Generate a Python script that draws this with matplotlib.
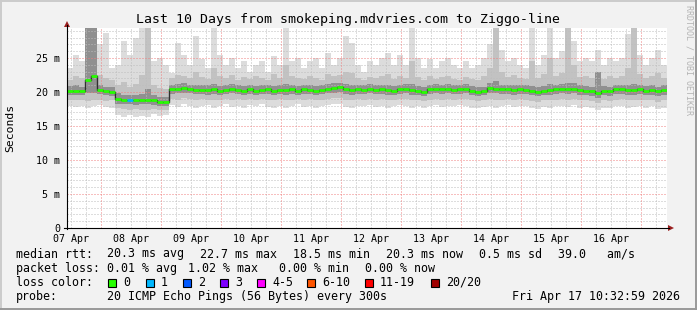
import datetime as dt

import matplotlib

matplotlib.use("Agg")
import matplotlib.dates as mdates
import matplotlib.pyplot as plt
import numpy as np
from matplotlib.lines import Line2D
from matplotlib.patches import Polygon, Rectangle
from matplotlib.ticker import FuncFormatter, MultipleLocator

# ---- data (ms), one value per 2.4 h column ----
median = [20.2, 20.2, 20.1, 21.8, 22.4, 20.3, 20.1, 20.0, 19.0, 18.9,
          18.9, 18.8, 18.9, 18.9, 18.8, 18.6, 18.6, 20.4, 20.5, 20.6,
          20.4, 20.3, 20.3, 20.3, 20.4, 20.2, 20.3, 20.5, 20.3, 20.2,
          20.4, 20.2, 20.3, 20.4, 20.2, 20.3, 20.3, 20.4, 20.2, 20.4,
          20.3, 20.2, 20.3, 20.5, 20.6, 20.7, 20.4, 20.3, 20.4, 20.3,
          20.5, 20.3, 20.4, 20.3, 20.2, 20.4, 20.5, 20.3, 20.2, 20.0,
          20.4, 20.5, 20.4, 20.5, 20.3, 20.4, 20.5, 20.2, 20.0, 20.1,
          20.6, 20.5, 20.4, 20.4, 20.3, 20.4, 20.3, 20.1, 20.0, 20.2,
          20.3, 20.4, 20.5, 20.4, 20.5, 20.3, 20.2, 20.1, 19.8, 20.2,
          20.1, 20.4, 20.4, 20.3, 20.3, 20.4, 20.2, 20.3, 20.1, 20.3]
ping_max = [23.5, 25.5, 24.5, 29.5, 29.5, 27.0, 28.7, 23.5, 24.0, 27.5,
            25.5, 27.9, 29.5, 29.5, 24.5, 25.0, 24.0, 22.8, 27.2, 25.5,
            24.0, 28.2, 24.8, 23.5, 29.5, 25.5, 24.0, 25.0, 23.5, 24.5,
            23.0, 24.0, 24.5, 23.0, 25.3, 24.0, 29.5, 24.5, 25.0, 23.5,
            24.5, 25.0, 23.5, 25.7, 24.0, 25.0, 28.2, 27.2, 24.0, 23.0,
            24.5, 24.0, 25.0, 25.7, 24.0, 25.5, 24.0, 29.5, 25.0, 23.5,
            24.8, 23.5, 24.5, 25.0, 24.0, 23.5, 24.5, 23.5, 24.0, 25.0,
            27.0, 29.5, 26.2, 24.5, 25.0, 24.0, 23.5, 29.5, 24.0, 25.5,
            29.5, 25.0, 26.0, 29.5, 27.5, 24.5, 25.0, 24.5, 26.2, 24.0,
            25.0, 24.5, 25.0, 28.5, 29.5, 25.5, 24.0, 25.0, 26.2, 24.0]
ping_p90 = [21.8, 22.3, 22.0, 29.5, 29.5, 22.5, 22.0, 21.8, 21.0, 21.5,
            20.8, 21.2, 22.5, 29.5, 21.0, 20.6, 20.5, 22.0, 22.5, 22.3,
            22.0, 23.0, 22.2, 21.9, 23.5, 22.4, 22.0, 22.5, 21.8, 22.2,
            21.9, 22.3, 22.0, 21.8, 22.6, 22.0, 24.0, 22.3, 22.1, 21.9,
            22.4, 22.0, 21.8, 22.6, 22.3, 22.5, 23.0, 22.8, 22.0, 21.8,
            22.2, 22.0, 22.4, 22.6, 21.9, 22.3, 22.1, 24.5, 22.2, 21.8,
            22.3, 21.9, 22.2, 22.4, 21.9, 21.8, 22.2, 21.9, 21.8, 22.3,
            23.5, 29.5, 23.0, 22.2, 22.5, 22.0, 21.9, 24.5, 22.0, 22.6,
            25.0, 22.3, 22.8, 29.5, 24.0, 22.2, 22.4, 22.0, 23.0, 21.9,
            22.3, 22.1, 22.4, 23.5, 29.5, 22.6, 22.0, 22.3, 22.8, 22.0]
ping_p75 = [20.9, 21.0, 20.8, 29.5, 29.5, 21.0, 20.8, 20.7, 19.8, 19.6,
            19.6, 19.5, 19.7, 20.5, 19.5, 19.3, 19.3, 21.1, 21.2, 21.3,
            21.1, 21.0, 21.0, 21.0, 21.2, 20.9, 21.0, 21.2, 21.0, 20.9,
            21.1, 20.9, 21.0, 21.1, 20.9, 21.0, 21.2, 21.1, 20.9, 21.1,
            21.0, 20.9, 21.0, 21.2, 21.3, 21.4, 21.2, 21.0, 21.1, 21.0,
            21.2, 21.0, 21.1, 21.0, 20.9, 21.1, 21.2, 21.2, 20.9, 20.7,
            21.1, 21.2, 21.1, 21.2, 21.0, 21.1, 21.2, 20.9, 20.7, 20.8,
            21.4, 21.6, 21.1, 21.1, 21.0, 21.1, 21.0, 20.9, 20.7, 20.9,
            21.2, 21.1, 21.2, 21.4, 21.3, 21.0, 20.9, 20.8, 23.0, 20.9,
            20.8, 21.1, 21.1, 21.1, 21.2, 21.1, 20.9, 21.0, 20.8, 21.0]
ping_p25 = [19.6, 19.6, 19.5, 19.8, 19.9, 19.7, 19.5, 19.4, 18.3, 18.2,
            18.2, 18.1, 18.2, 18.2, 18.1, 17.9, 17.9, 19.7, 19.8, 19.9,
            19.8, 19.7, 19.7, 19.6, 19.7, 19.6, 19.7, 19.8, 19.7, 19.6,
            19.7, 19.6, 19.7, 19.7, 19.6, 19.7, 19.6, 19.7, 19.6, 19.7,
            19.7, 19.6, 19.7, 19.8, 19.9, 20.0, 19.7, 19.6, 19.7, 19.7,
            19.8, 19.7, 19.7, 19.6, 19.6, 19.7, 19.8, 19.6, 19.6, 19.4,
            19.7, 19.8, 19.7, 19.8, 19.7, 19.7, 19.8, 19.6, 19.4, 19.5,
            19.9, 19.8, 19.7, 19.7, 19.6, 19.7, 19.7, 19.5, 19.4, 19.5,
            19.6, 19.7, 19.8, 19.7, 19.8, 19.6, 19.5, 19.4, 19.1, 19.5,
            19.4, 19.7, 19.7, 19.6, 19.6, 19.7, 19.5, 19.6, 19.4, 19.6]
ping_p10 = [18.9, 18.8, 18.9, 18.7, 18.8, 18.9, 18.7, 18.8, 17.6, 17.5,
            17.4, 17.5, 17.3, 17.4, 17.5, 17.3, 17.4, 19.0, 18.9, 19.1,
            19.0, 18.9, 19.0, 18.9, 18.8, 18.9, 19.0, 18.9, 19.0, 18.8,
            19.0, 18.9, 19.0, 18.9, 18.8, 19.0, 18.8, 18.9, 19.0, 18.9,
            19.0, 18.8, 18.9, 19.0, 19.1, 19.2, 18.9, 18.8, 19.0, 18.9,
            19.0, 18.9, 19.0, 18.8, 18.9, 19.0, 19.0, 18.8, 18.9, 18.7,
            18.9, 19.0, 18.9, 19.0, 18.9, 19.0, 19.0, 18.8, 18.7, 18.8,
            19.0, 18.9, 18.9, 19.0, 18.9, 19.0, 18.9, 18.7, 18.6, 18.8,
            18.8, 18.9, 19.0, 18.9, 19.0, 18.8, 18.8, 18.7, 18.4, 18.8,
            18.7, 18.9, 19.0, 18.8, 18.8, 18.9, 18.8, 18.9, 18.6, 18.8]
ping_min = [18.0, 17.8, 17.9, 17.6, 17.9, 18.1, 17.8, 17.7, 16.6, 16.4,
            16.6, 16.3, 16.5, 16.4, 16.7, 16.5, 16.6, 18.1, 17.8, 18.2,
            17.9, 17.7, 18.0, 18.1, 17.6, 17.9, 18.2, 17.8, 18.0, 17.7,
            18.1, 17.9, 18.2, 17.8, 17.6, 18.0, 17.7, 17.9, 18.2, 17.8,
            18.0, 17.6, 17.9, 18.1, 18.2, 18.3, 17.8, 17.7, 18.0, 17.9,
            18.1, 17.8, 18.0, 17.7, 17.9, 18.1, 18.0, 17.6, 17.9, 17.7,
            18.0, 18.1, 17.8, 18.0, 17.9, 18.1, 18.0, 17.7, 17.6, 17.8,
            18.0, 17.7, 17.9, 18.1, 17.8, 18.0, 17.9, 17.6, 17.5, 17.8,
            17.7, 17.9, 18.0, 17.8, 18.1, 17.7, 17.8, 17.6, 17.3, 17.7,
            17.6, 17.9, 18.0, 17.7, 17.8, 17.9, 17.7, 17.9, 17.5, 17.7]
loss = [0] * 10 + [1] + [0] * 89

loss_labels = ["0", "1", "2", "3", "4-5", "6-10", "11-19", "20/20"]
loss_colors = ["#26ff00", "#00b8ff", "#0059ff", "#7e00ff",
               "#ff00ff", "#ff5500", "#ff0000", "#a10000"]

median_stats = ["20.3 ms avg", "22.7 ms max", "18.5 ms min",
                "20.3 ms now", "0.5 ms sd", "39.0   am/s"]
loss_stats = ["0.01 % avg", "1.02 % max", "0.00 % min", "0.00 % now"]

W, H = 697, 310
MONO = "DejaVu Sans Mono"


def fx(x):
    return x / W


def fy(y):
    return 1 - y / H


fig = plt.figure(figsize=(W / 100, H / 100), dpi=100, facecolor="#f2f2f2")
ax = fig.add_axes([fx(67), fy(228), 600 / W, 200.5 / H])
ax.set_facecolor("white")

t0 = dt.datetime(2026, 4, 7, 10, 32, 59)
col = dt.timedelta(hours=2.4)
x_left = mdates.date2num([t0 + i * col for i in range(len(median))])
edges = np.append(x_left, x_left[-1] + 0.1)


def ext(a):
    return np.append(a, a[-1])


# smoke: outer to inner
for lo, hi, c in [(ping_min, ping_max, "#dcdcdc"),
                  (ping_p10, ping_p90, "#c2c2c2"),
                  (ping_p25, ping_p75, "#909090")]:
    ax.fill_between(edges, ext(lo), ext(hi), step="post", color=c,
                    linewidth=0, zorder=1)

ax.step(edges, ext(median), where="post", color="#303030", lw=1.0, zorder=4)
ax.hlines(median, x_left, x_left + 0.1,
          colors=[loss_colors[l] for l in loss], lw=2.0, zorder=5)

ax.set_xlim(mdates.date2num(t0), mdates.date2num(t0 + dt.timedelta(days=10)))
ax.set_ylim(0, 29.5)

ax.yaxis.set_major_locator(MultipleLocator(5))
ax.yaxis.set_minor_locator(MultipleLocator(1))
ax.yaxis.set_major_formatter(FuncFormatter(lambda v, p: "0" if v == 0 else f"{v:g} m"))
ax.xaxis.set_major_locator(mdates.HourLocator(byhour=12))
ax.xaxis.set_major_formatter(mdates.DateFormatter("%d %b"))
ax.xaxis.set_minor_locator(mdates.HourLocator(byhour=[6, 12, 18]))
ax.xaxis.remove_overlapping_locs = False

dots = (0, (1, 2))
ax.set_axisbelow(False)
ax.grid(which="minor", color="#bdbdbd", ls=dots, lw=0.72, zorder=2.5)
ax.grid(which="major", axis="y", color="#f08080", ls=dots, lw=0.72, zorder=2.6)
ax.grid(which="major", axis="x", visible=False)
for d in range(8, 18):
    ax.axvline(mdates.date2num(dt.datetime(2026, 4, d)), color="#f08080",
               ls=dots, lw=0.72, zorder=2.6)

ax.tick_params(which="both", length=0, labelsize=7.2, colors="black")
ax.tick_params(axis="y", pad=5)
ax.tick_params(axis="x", pad=4)
for lab in ax.get_xticklabels() + ax.get_yticklabels():
    lab.set_family(MONO)
for s in ax.spines.values():
    s.set_visible(False)

# axes with arrows
fig.add_artist(Line2D([fx(67), fx(67)], [fy(228.5), fy(25)], color="black", lw=0.8))
fig.add_artist(Line2D([fx(64), fx(669)], [fy(228), fy(228)], color="black", lw=0.8))
fig.add_artist(Polygon([(fx(64), fy(27)), (fx(70), fy(27)), (fx(67), fy(21))],
                       closed=True, color="#9b2020", lw=0))
fig.add_artist(Polygon([(fx(668), fy(225)), (fx(668), fy(231)), (fx(674), fy(228))],
                       closed=True, color="#9b2020", lw=0))

# frame
fig.add_artist(Line2D([0, 1], [fy(0.5), fy(0.5)], color="#cbcbcb", lw=1.4))
fig.add_artist(Line2D([fx(0.5), fx(0.5)], [0, 1], color="#cbcbcb", lw=1.4))
fig.add_artist(Line2D([0, 1], [fy(309), fy(309)], color="#999999", lw=1.4))
fig.add_artist(Line2D([fx(696), fx(696)], [0, 1], color="#999999", lw=1.4))

fig.text(fx(348), fy(19), "Last 10 Days from smokeping.mdvries.com to Ziggo-line",
         family=MONO, fontsize=9.5, ha="center", va="center")
fig.text(fx(10), fy(128), "Seconds", family=MONO, fontsize=8.2,
         rotation=90, ha="center", va="center")
fig.text(fx(689), fy(5), "RRDTOOL / TOBI OETIKER", family=MONO, fontsize=6,
         rotation=270, ha="center", va="top", color="#b4b4b4")


def label(x, y, s, **kw):
    fig.text(fx(x), fy(y), s, family=MONO, fontsize=8.4, va="center", **kw)


# legend rows
label(16, 254, "median rtt:")
for x, s in zip([107, 200, 293, 386, 479, 558], median_stats):
    label(x, 254, s)

label(16, 268.5, "packet loss:")
for x, s in zip([107, 188, 279, 365], loss_stats):
    label(x, 268.5, s)

label(16, 282, "loss color:")
for x, s, c in zip([108, 146, 183, 220, 257, 307, 365, 431], loss_labels, loss_colors):
    fig.add_artist(Rectangle((fx(x), fy(286.5)), 8 / W, 8 / H, facecolor=c,
                             edgecolor="black", lw=0.8))
    label(x + 15, 282, s)

label(16, 296.5, "probe:")
label(107, 296.5, "20 ICMP Echo Pings (56 Bytes) every 300s")
label(680, 296.5, "Fri Apr 17 10:32:59 2026", ha="right")

fig.savefig("out.png", dpi=100, facecolor=fig.get_facecolor())
